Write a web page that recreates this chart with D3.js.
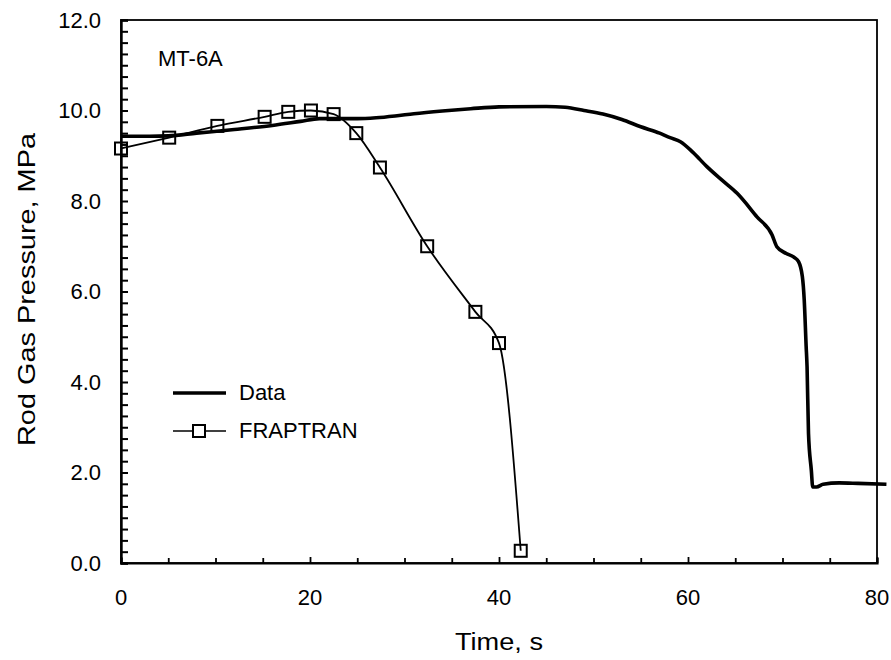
<!DOCTYPE html>
<html lang="en">
<head>
  <meta charset="utf-8">
  <script src="https://d3js.org/d3.v7.min.js"></script>
  <style>
    body { margin: 0; background: #fff; }
    svg { display: block; font-family: "Liberation Sans", Arial, sans-serif; }
  </style>
</head>
<body>
  <svg width="891" height="660"></svg>

  <script>
    const width = 891, height = 660;
    const margin = { top: 20, right: 14, bottom: 97, left: 121 };

    // measured data curve (time s, pressure MPa)
    const dataTime = [0, 3, 5, 8, 12, 16, 19, 21, 23, 25, 27, 29, 31, 34, 37, 40, 45, 47, 49, 51, 53, 55, 57,
      58.1, 59.2, 60.5, 62, 63.6, 65.2, 67.3, 68.9, 69.4, 70.4, 71.2, 71.7, 72.1, 72.3, 72.5, 72.6, 72.75,
      73.05, 73.2, 73.6, 74.3, 76, 78, 81];
    const dataPressure = [9.43, 9.43, 9.44, 9.5, 9.58, 9.67, 9.76, 9.82, 9.82, 9.82, 9.84, 9.88, 9.93, 9.99,
      10.04, 10.08, 10.09, 10.07, 10.0, 9.92, 9.8, 9.64, 9.5, 9.4, 9.31, 9.08, 8.76, 8.46, 8.17, 7.65, 7.25,
      6.99, 6.84, 6.76, 6.66, 6.33, 5.81, 4.8, 4.33, 2.87, 2.05, 1.68, 1.68, 1.74, 1.77, 1.76, 1.74];

    // FRAPTRAN calculation
    const fraptranTime = [0, 5.1, 10.2, 15.2, 17.7, 20.1, 22.5, 24.9, 27.4, 32.4, 37.5, 40.0, 42.3];
    const fraptranPressure = [9.16, 9.40, 9.66, 9.86, 9.97, 10.0, 9.92, 9.50, 8.74, 7.00, 5.55, 4.86, 0.27];

    const xTickValues = [0, 20, 40, 60, 80];
    const yTickValues = [0, 2, 4, 6, 8, 10, 12];
    const seriesLabels = ["Data", "FRAPTRAN"];
    const caseLabel = "MT-6A";

    const dataPoints = dataTime.map((t, i) => ({ t, p: dataPressure[i] }));
    const fraptranPoints = fraptranTime.map((t, i) => ({ t, p: fraptranPressure[i] }));

    const svg = d3.select("svg");

    const x = d3.scaleLinear().domain([0, 80]).range([margin.left, width - margin.right]);
    const y = d3.scaleLinear().domain([0, 12]).range([height - margin.bottom, margin.top]);

    // frame
    svg.append("rect")
      .attr("x", x(0)).attr("y", y(12))
      .attr("width", x(80) - x(0)).attr("height", y(0) - y(12))
      .attr("fill", "none").attr("stroke", "#000").attr("stroke-width", 1.8);

    // minor ticks, pointing inward
    const xAxis = d3.axisBottom(x).tickValues(d3.range(0, 81, 5)).tickSize(-5).tickFormat("");
    svg.append("g")
      .attr("transform", `translate(0,${y(0)})`)
      .call(xAxis)
      .call(g => g.select(".domain").attr("stroke-width", 2.2))
      .call(g => g.selectAll(".tick line").attr("stroke-width", 1.8))
      .call(g => g.selectAll(".tick").filter(d => d % 20 === 0).select("line").attr("y2", -6));

    const yAxis = d3.axisLeft(y).tickValues(d3.range(0, 12.01, 0.25)).tickSize(-7).tickFormat("");
    svg.append("g")
      .attr("transform", `translate(${x(0)},0)`)
      .call(yAxis)
      .call(g => g.select(".domain").attr("stroke-width", 2.4))
      .call(g => g.selectAll(".tick line").attr("stroke-width", 2));

    // tick labels
    svg.append("g").selectAll("text")
      .data(xTickValues)
      .enter().append("text")
      .attr("x", d => x(d))
      .attr("y", y(0) + 42)
      .attr("text-anchor", "middle")
      .style("font-size", "22px")
      .text(d => d);

    svg.append("g").selectAll("text")
      .data(yTickValues)
      .enter().append("text")
      .attr("x", x(0) - 20)
      .attr("y", d => y(d))
      .attr("dy", "0.36em")
      .attr("text-anchor", "end")
      .style("font-size", "22px")
      .text(d => d.toFixed(1));

    // axis titles
    svg.append("text")
      .attr("x", 499)
      .attr("y", 650)
      .attr("text-anchor", "middle")
      .attr("textLength", 88)
      .attr("lengthAdjust", "spacingAndGlyphs")
      .style("font-size", "23px")
      .text("Time, s");

    svg.append("text")
      .attr("transform", `translate(35,${(y(0) + y(12)) / 2 - 2}) rotate(-90)`)
      .attr("text-anchor", "middle")
      .attr("textLength", 313)
      .attr("lengthAdjust", "spacingAndGlyphs")
      .style("font-size", "24px")
      .text("Rod Gas Pressure, MPa");

    svg.append("text")
      .attr("x", 158)
      .attr("y", 66)
      .style("font-size", "22px")
      .text(caseLabel);

    // lines
    const line = d3.line()
      .x(d => x(d.t))
      .y(d => y(d.p))
      .curve(d3.curveMonotoneX);

    svg.append("path")
      .datum(fraptranPoints)
      .attr("d", line)
      .attr("fill", "none")
      .attr("stroke", "#000")
      .attr("stroke-width", 1.8);

    svg.append("path")
      .datum(dataPoints)
      .attr("d", line)
      .attr("fill", "none")
      .attr("stroke", "#000")
      .attr("stroke-width", 3.6)
      .attr("stroke-linejoin", "round");

    const sq = 12;
    svg.append("g").selectAll("rect")
      .data(fraptranPoints)
      .enter().append("rect")
      .attr("x", d => x(d.t) - sq / 2)
      .attr("y", d => y(d.p) - sq / 2)
      .attr("width", sq)
      .attr("height", sq)
      .attr("fill", "none")
      .attr("stroke", "#000")
      .attr("stroke-width", 2);

    // legend
    const legend = svg.append("g").attr("transform", "translate(173,393)");
    legend.append("line")
      .attr("x1", 0).attr("x2", 53).attr("y1", 0).attr("y2", 0)
      .attr("stroke", "#000").attr("stroke-width", 3.4);
    legend.append("line")
      .attr("x1", 0).attr("x2", 53).attr("y1", 38).attr("y2", 38)
      .attr("stroke", "#000").attr("stroke-width", 1.6);
    legend.append("rect")
      .attr("x", 26 - sq / 2).attr("y", 38 - sq / 2)
      .attr("width", sq).attr("height", sq)
      .attr("fill", "#fff").attr("stroke", "#000").attr("stroke-width", 2);
    legend.selectAll("text.item")
      .data(seriesLabels)
      .enter().append("text")
      .attr("class", "item")
      .attr("x", 66)
      .attr("y", (d, i) => i * 38 + 7)
      .style("font-size", "22px")
      .text(d => d);
  </script>
</body>
</html>
